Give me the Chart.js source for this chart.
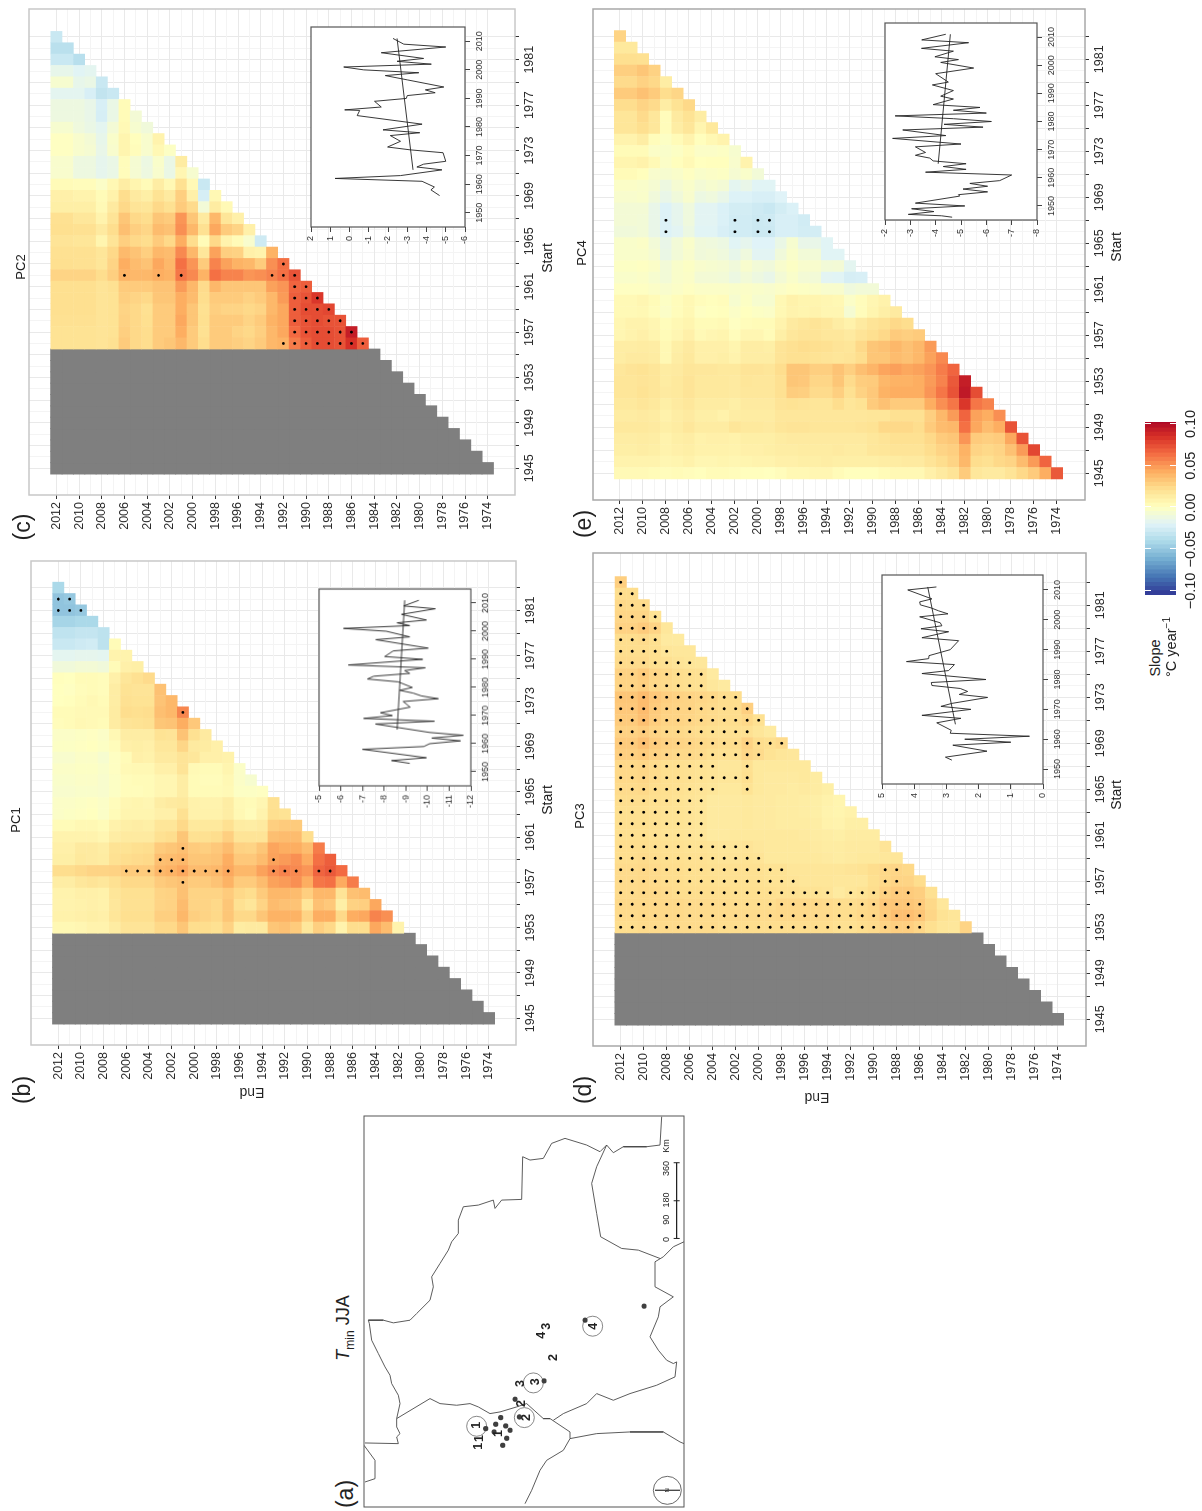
<!DOCTYPE html>
<html>
<head>
<meta charset="utf-8">
<title>Tmin JJA slopes</title>
<script src="https://cdn.jsdelivr.net/npm/chart.js@4"></script>
<style>
    html, body { margin: 0; padding: 0; background: #fff; overflow: hidden; }
    /* the whole figure is laid out lying on its side */
    #page { position: absolute; left: 0; top: 0; width: 1511px; height: 1202px;
            transform-origin: 0 0; transform: translateY(1511px) rotate(-90deg);
            font-family: "Liberation Sans", sans-serif; color: #222; }
    #page canvas { position: absolute; }
    .lbl { position: absolute; white-space: nowrap; line-height: 1; }
</style>
</head>
<body>
<div id="page"></div>
<script>
// Slopes in 0.001 degC/year. Each row is one start year, from 1983 down,
// and each row runs over end years from 2012 down.
const lastStart = 1983;
const pc1Slopes = [
    [-42],
    [-52,-50],
    [-52,-52,-50],
    [-44,-44,-42,-42],
    [-34,-34,-32,-32,-35],
    [-30,-30,-28,-27,-35,3],
    [-18,-18,-17,-17,-18,8,8],
    [-10,-10,-8,-8,-10,3,10,11],
    [1,0,3,3,2,10,17,20,23],
    [0,-1,2,3,2,12,19,18,18,34],
    [0,1,3,5,3,12,20,19,19,33,38],
    [3,3,4,4,4,13,22,21,22,35,38,55],
    [2,3,5,4,3,13,18,19,20,32,33,42,31],
    [-3,-3,-2,-1,-3,5,12,12,12,19,18,33,20,14],
    [-2,-2,-1,0,-2,2,10,11,10,16,16,25,14,13,10],
    [-5,-5,-3,-3,-6,-1,3,10,9,14,14,18,16,10,10,9],
    [-3,-3,-2,-2,-4,-1,4,5,5,10,10,18,4,3,3,7,-3],
    [-4,-4,-3,-3,-5,-2,2,3,3,6,6,12,3,2,2,5,-3,-6],
    [-5,-5,-4,-4,-5,-2,2,2,3,6,6,12,3,3,3,4,-2,-2,-1],
    [-3,-3,-2,-1,-3,2,6,7,6,12,14,15,9,8,8,12,4,3,6,20],
    [-3,-2,-1,0,-3,3,7,7,7,10,10,20,9,9,9,12,5,2,8,21,19],
    [3,3,5,5,3,9,11,12,11,17,17,24,15,15,15,20,13,12,14,28,30,30],
    [8,8,8,8,6,12,14,14,14,20,22,32,20,20,22,28,18,18,18,35,36,36,22],
    [10,10,14,14,12,19,19,21,22,30,32,35,30,28,31,36,27,26,32,45,42,42,36,58],
    [11,11,15,14,13,20,22,23,24,35,36,38,32,32,33,42,31,31,36,46,48,52,43,62,68],
    [22,22,24,26,26,27,30,30,30,38,40,44,36,36,38,44,38,38,46,52,56,54,50,66,70,64],
    [12,12,16,18,16,20,24,24,24,30,32,34,30,30,33,40,30,30,36,46,48,52,42,60,62,43,58],
    [8,8,10,10,9,17,20,20,20,26,27,34,26,26,26,30,24,22,30,38,38,36,28,38,38,18,34,36],
    [8,8,9,10,9,16,20,20,20,26,27,36,26,26,24,32,20,17,26,36,34,33,17,34,31,11,27,28,44],
    [9,9,10,11,10,17,21,21,21,28,28,38,28,26,24,32,24,24,32,40,40,40,26,42,42,24,42,44,56,52],
    [5,5,6,8,8,13,18,18,18,24,24,32,22,22,20,27,13,14,14,32,34,30,16,28,24,8,22,22,44,36,8]
];
const pc2Slopes = [
    [-30],
    [-36,-36],
    [-30,-30,-37],
    [-16,-16,-20,-18],
    [-6,-6,-16,-14,-30],
    [-18,-18,-18,-24,-33,-30],
    [-12,-12,-12,-15,-24,-14,3],
    [-12,-12,-12,-15,-25,-14,3,-8],
    [-6,-6,-11,-14,-18,-8,4,-6,-10],
    [-1,-1,-5,-8,-16,-4,7,1,-5,8],
    [-1,-1,-5,-7,-15,-5,7,2,-5,5,-2],
    [-5,-5,-12,-12,-17,-14,2,-7,-13,-4,-14,13],
    [-5,-5,-12,-12,-17,-14,2,-7,-12,-5,-14,6,-6],
    [3,3,2,2,-3,5,12,7,3,12,5,20,4,-30],
    [10,10,8,8,3,9,22,14,11,19,14,28,10,-25,5],
    [11,11,11,11,4,14,24,18,17,24,20,30,23,-9,13,4],
    [20,20,16,16,8,18,32,24,22,32,30,50,32,14,38,17,10],
    [21,21,20,20,14,22,35,28,25,36,34,52,38,20,44,30,26,10],
    [18,18,17,17,7,18,28,24,22,30,24,42,22,3,24,8,3,-5,-28],
    [20,20,20,20,17,24,37,33,28,38,36,54,38,16,46,28,27,10,8,40],
    [21,21,20,20,17,26,42,36,33,44,38,62,50,30,56,46,40,38,30,52,62],
    [26,26,26,26,22,28,40,38,38,42,40,60,54,40,62,56,56,50,52,56,62,72],
    [21,21,21,21,18,20,30,30,30,33,33,48,38,23,38,32,32,32,32,46,50,66,68],
    [21,21,21,21,18,19,28,26,24,32,32,42,36,22,30,30,30,27,30,38,48,68,72,82],
    [21,21,21,21,18,19,26,24,20,30,30,42,32,20,28,26,26,24,26,38,44,68,74,74,76],
    [20,20,20,20,18,19,27,24,21,30,30,44,32,21,30,30,30,26,30,40,44,68,72,74,72,72],
    [19,19,19,19,18,19,28,24,22,30,30,42,30,20,30,30,26,24,28,38,44,64,72,74,74,72,92],
    [19,19,19,19,18,20,30,24,22,30,32,38,30,22,30,30,28,26,30,38,40,58,68,74,74,72,84,68]
];
const pc3Slopes = [
    [28],
    [22,22],
    [24,23,23],
    [25,25,25,19],
    [27,27,30,26,16],
    [22,22,23,21,14,14],
    [22,22,22,21,17,16,16],
    [23,23,23,21,20,18,17,16],
    [27,27,30,25,24,22,21,20,14],
    [26,26,28,24,23,22,21,20,16,14],
    [32,32,36,31,28,27,26,25,24,22,22],
    [31,31,36,30,27,26,26,24,23,22,22,28],
    [30,30,35,29,26,26,25,24,23,22,22,24,20],
    [27,27,29,26,24,24,23,22,21,20,20,20,17,14],
    [30,30,34,29,27,26,25,24,23,22,22,27,22,21,23],
    [28,28,30,27,25,24,24,23,21,20,20,25,23,19,17,16],
    [24,24,25,23,21,21,20,19,18,16,16,20,15,15,15,15,15],
    [24,24,25,23,21,21,20,19,18,17,17,21,15,14,14,14,15,13],
    [23,23,24,22,21,20,19,18,17,15,15,19,15,14,14,13,14,13,11],
    [22,22,22,21,20,19,18,17,14,14,14,15,14,14,13,13,12,11,9,7],
    [21,21,21,20,19,19,18,17,14,14,14,15,14,14,13,13,12,11,8,7,9],
    [21,21,21,20,19,19,18,17,14,14,14,15,14,14,13,13,13,12,9,8,11,11],
    [21,21,21,20,19,19,18,17,14,14,15,15,15,15,15,15,14,13,12,11,13,13,13],
    [22,22,22,21,20,20,19,19,18,17,17,18,16,15,15,15,15,14,13,13,14,14,14,18],
    [22,22,23,22,21,21,20,20,19,18,18,19,18,15,15,15,15,15,14,13,14,15,15,16,17],
    [23,23,24,23,22,22,21,21,20,20,20,20,20,19,19,17,17,17,17,17,18,19,22,24,25,24],
    [23,23,24,23,22,22,21,21,21,20,20,20,20,19,19,18,17,17,17,16,16,16,21,24,26,26,22],
    [23,23,24,24,23,22,22,22,22,22,21,21,21,21,20,20,19,19,18,14,17,19,22,27,30,30,28,20],
    [24,24,24,24,24,24,23,23,23,23,22,22,22,22,24,24,24,24,23,22,22,23,25,31,32,32,30,24,16],
    [23,23,24,24,24,24,23,23,23,23,23,23,23,23,24,24,24,23,23,22,22,24,25,30,35,35,32,25,19,17],
    [22,22,23,23,23,23,23,23,23,22,22,22,22,22,22,22,22,22,22,20,20,22,23,26,28,28,25,21,17,16,26]
];
const pc4Slopes = [
    [26],
    [15,15],
    [21,21,20],
    [28,28,32,27],
    [23,23,27,24,12],
    [30,30,34,30,22,25],
    [22,22,26,23,12,19,24],
    [17,17,23,16,2,14,19,12],
    [17,17,21,16,2,12,17,7,15],
    [8,8,12,2,-2,3,8,1,5,8],
    [3,3,3,-3,-4,-2,2,-3,-3,-2,-6],
    [7,7,9,4,-3,1,4,0,1,1,-5,8],
    [3,3,1,-5,-6,-4,-1,-4,-3,-2,-7,-4,-9],
    [-3,-3,-4,-7,-12,-7,-4,-8,-6,-8,-18,-15,-20,-20],
    [-5,-5,-4,-10,-15,-10,-5,-13,-11,-15,-22,-22,-24,-24,-21],
    [-8,-8,-8,-15,-22,-17,-11,-19,-19,-23,-26,-26,-28,-30,-26,-23],
    [-8,-8,-9,-15,-22,-17,-11,-19,-19,-23,-27,-27,-29,-28,-24,-24,-27],
    [-10,-10,-9,-15,-22,-19,-13,-20,-20,-24,-27,-27,-29,-29,-24,-24,-26,-26],
    [-4,-4,-3,-9,-15,-9,-4,-10,-11,-13,-20,-17,-21,-21,-14,-6,-15,-15,-20],
    [-4,-4,-4,-7,-14,-9,-5,-10,-9,-11,-16,-11,-19,-19,-10,-4,-9,-9,-20,-20],
    [-2,-2,-1,-3,-9,-4,-2,-5,-6,-7,-10,-5,-9,-10,-5,-2,-5,-5,-9,-8,-18],
    [-4,-4,-3,-6,-9,-4,-3,-8,-8,-9,-13,-9,-12,-15,-8,-4,-8,-9,-19,-20,-25,-24],
    [-1,-1,-1,-3,-5,-3,-1,-3,-3,-3,-4,-3,-4,-5,-3,-1,-2,-3,-5,-5,-11,-9,-9],
    [4,4,6,3,-2,2,5,2,1,2,-6,-2,-6,-6,5,9,7,7,6,5,-3,2,6,9],
    [4,4,5,2,-3,2,5,-1,0,1,-3,0,-2,-3,5,8,7,8,6,6,-7,2,7,11,14],
    [6,8,8,6,2,5,7,3,3,4,-1,2,3,3,8,14,16,18,16,12,9,14,18,20,24,22],
    [6,8,10,7,3,6,10,4,6,7,2,6,6,3,11,16,18,18,16,16,14,18,21,24,30,28,30],
    [12,12,13,12,5,11,14,10,10,10,7,12,12,11,18,20,22,21,20,18,17,24,32,34,38,34,38,48],
    [12,14,14,13,5,12,15,10,10,11,8,12,12,12,18,20,20,19,18,17,18,22,32,32,36,34,38,46,54],
    [16,18,19,17,13,14,17,16,16,15,15,18,18,17,22,32,32,28,28,33,28,35,39,45,47,44,46,50,58,66],
    [17,17,18,17,13,15,18,15,15,15,14,17,16,16,20,32,31,25,25,32,23,29,30,38,40,40,42,48,56,70,92],
    [17,17,19,17,14,15,18,15,15,15,14,16,16,16,20,29,28,23,23,28,20,27,31,40,42,42,42,50,60,72,94,74],
    [15,15,17,15,11,14,16,13,13,13,11,14,14,14,18,19,18,17,17,22,17,19,30,34,30,30,30,42,52,60,82,60,56],
    [13,13,14,13,9,12,14,11,11,9,12,13,13,13,16,16,16,16,16,16,16,16,17,17,20,20,20,28,38,48,66,46,42,52],
    [15,15,15,14,11,13,16,13,13,13,17,15,15,14,17,18,18,17,17,17,17,18,19,24,24,24,22,30,36,38,62,44,36,42,72],
    [12,12,13,12,8,11,12,9,10,10,9,11,11,11,13,14,14,14,14,14,14,14,16,18,20,20,20,24,30,32,50,30,28,30,44,72],
    [11,11,12,11,8,10,11,9,9,9,8,10,10,11,12,12,13,13,13,14,13,13,16,17,18,18,18,22,26,28,40,26,24,26,34,48,76],
    [8,8,8,8,6,7,9,6,6,7,6,7,8,8,10,10,11,11,12,11,11,11,11,12,13,14,14,18,22,26,38,22,20,24,26,36,48,66],
    [4,4,4,3,2,3,2,1,3,3,2,1,1,0,2,5,5,6,6,3,1,1,1,3,5,5,5,10,14,18,30,16,14,14,18,24,30,42,70]
];

// Significant cells: [start, end from, end to]
const pc1Signif = [
    [1982,2012,2011], [1981,2012,2010], [1972,2001,2001], [1960,2001,2001],
    [1959,2003,2001], [1959,1993,1993], [1958,2006,1997], [1958,1993,1991],
    [1958,1989,1988], [1957,2001,2001]
];
const pc2Signif = [
    [1963,1992,1992], [1962,2006,2006], [1962,2003,2003], [1962,2001,2001], [1962,1993,1991],
    [1961,1991,1990], [1960,1991,1989], [1959,1991,1988], [1958,1991,1987], [1957,1991,1986],
    [1956,1992,1985]
];
const pc3Signif = [
    [1983,2012,2012], [1982,2012,2011], [1981,2012,2010], [1980,2012,2009], [1979,2012,2009],
    [1978,2012,2009], [1977,2012,2008], [1976,2012,2006], [1975,2012,2005], [1974,2012,2005],
    [1973,2012,2002], [1972,2012,2001], [1971,2012,2000], [1970,2012,2001], [1969,2012,1998],
    [1968,2012,2000], [1967,2012,2004], [1967,2001,2001], [1966,2012,2001], [1965,2012,2004],
    [1965,2001,2001], [1964,2012,2005], [1963,2012,2005], [1962,2012,2005], [1961,2012,2005],
    [1960,2012,2001], [1959,2012,2000], [1958,2012,1998], [1958,1989,1988], [1957,2012,1997],
    [1957,1989,1988], [1956,2012,1994], [1956,1992,1987], [1955,2012,1986], [1954,2012,1986],
    [1953,2012,1986]
];
const pc4Signif = [
    [1967,2008,2008], [1967,2002,2002], [1967,2000,1999],
    [1966,2008,2008], [1966,2002,2002], [1966,2000,1999]
];

// Inset time series
const pc1Years = [1953,1954,1955,1958,1959,1960,1961,1962,1963,1964,1967,1968,1969,1970,1971,1973,1975,1976,1977,1978,1979,1980,1982,1983,1984,1985,1986,1987,1988,1990,1991,1993,1994,1997,1998,2000,2001,2002,2003,2004,2006,2008,2009,2011];
const pc1Values = [-9.18,-8.34,-9.95,-7.0,-9.83,-10.1,-11.52,-10.2,-11.65,-10.1,-7.6,-10.32,-7.06,-8.38,-7.83,-9.2,-8.88,-10.5,-9.72,-9.34,-8.72,-9.3,-8.65,-7.23,-7.52,-9.18,-8.95,-9.9,-6.35,-9.78,-8.03,-8.42,-10.03,-7.62,-9.18,-8.1,-6.13,-9.18,-8.6,-9.95,-8.8,-10.36,-8.9,-9.6];
const pc1TrendYears = [1965, 2011];
const pc1TrendValues = [-8.6, -8.95];

const pc2Years = [1956,1958,1959,1961,1962,1963,1965,1966,1967,1968,1971,1972,1973,1975,1977,1978,1979,1981,1984,1985.8,1986,1987,1989,1990,1991,1992,1993,1994,1996.5,1998,1999,2000,2001,2002,2003,2004,2006,2008,2009,2011];
const pc2Values = [-4.68,-4.23,-4.41,-3.77,0.75,-2.65,-4.8,-3.5,-3.85,-5.0,-4.86,-3.16,-1.98,-2.65,-2.12,-3.65,-1.74,-3.77,-0.4,-0.53,0.25,-1.65,-1.3,-2.95,-3.0,-4.45,-3.94,-4.9,-3.0,-1.86,-3.6,-0.74,0.3,-4.25,-2.47,-3.85,-1.65,-5.0,-2.82,-2.26];
const pc2TrendYears = [1965, 2011];
const pc2TrendValues = [-3.3, -2.47];

const pc3Years = [1953,1954,1956,1958,1959,1960,1961,1962,1963,1965.5,1967,1968,1970,1971,1972,1974,1975,1976,1977,1978,1979,1980,1982,1983,1985,1986,1987,1988,1990,1993,1994,1996,1997,1998,1999,2001,2002,2003,2004,2005,2006,2007,2010,2011];
const pc3Values = [2.83,3.03,1.74,2.8,1.0,2.43,0.42,2.88,2.85,3.3,2.55,3.76,2.24,3.17,2.83,1.72,2.6,2.34,2.57,3.45,3.47,1.77,3.76,2.93,2.75,4.24,3.55,3.54,2.88,2.62,3.76,2.93,3.79,3.14,3.19,3.83,2.95,3.24,3.48,3.81,3.83,3.45,4.2,3.31];
const pc3TrendYears = [1965, 2011];
const pc3TrendValues = [2.72, 3.58];

const pc4Years = [1946,1946.5,1947,1948,1949,1950,1951,1953.5,1954,1955,1956,1957,1958,1959,1961,1962,1963,1964,1965,1966,1967,1968,1969,1971,1972,1974,1975,1977,1978,1979,1980,1981,1982,1983,1984,1985,1986,1988,1989,1991,1993,1994,1997,1999,2001,2002,2003,2005,2006,2008,2009,2011];
const pc4Values = [-4.65,-4.23,-2.92,-3.93,-3.05,-5.15,-3.2,-4.95,-4.9,-6.05,-5.08,-6.05,-5.35,-6.53,-7.0,-3.6,-5.2,-4.3,-5.2,-3.9,-3.77,-3.2,-3.6,-3.2,-5.0,-2.3,-4.4,-2.7,-5.87,-4.33,-6.2,-4.7,-2.4,-6.0,-4.7,-5.75,-3.9,-4.7,-4.2,-4.7,-3.87,-4.5,-4.0,-5.5,-4.2,-4.9,-3.97,-4.7,-3.44,-5.3,-3.45,-4.4];
const pc4TrendYears = [1965, 2011];
const pc4TrendValues = [-4.1, -4.58];

const insetYearTicks = [1950, 1960, 1970, 1980, 1990, 2000, 2010];

// Map outlines, as [across, down] in map units
const mapBorders = [
    [[105,998],[205,1000],[200,980],[210,970],[200,950],[200,925],[210,880],[205,855],[185,820],[180,795],[165,770],[145,730],[125,690],[118,640],[115,630],[160,630],[190,638],[240,630],[260,610],[300,570],[310,530],[305,500],[330,460],[355,420],[365,395],[385,370],[385,330],[400,290],[445,285],[490,270],[495,295],[515,270],[575,268],[578,140],[600,150],[640,145],[665,100],[705,85],[770,105],[810,125],[830,105],[850,128],[880,110],[950,110],[990,105],[995,20]],
    [[830,105],[800,170],[785,220],[800,310],[812,380],[875,415],[925,420],[990,445]],
    [[1062,395],[1030,410],[1000,440],[975,455],[975,530],[1030,560],[990,590],[985,620],[960,680],[985,720],[1010,750],[1030,760],[1040,755],[1035,800],[980,825],[900,850],[850,870],[800,850],[770,880],[700,910],[670,930]],
    [[200,925],[300,865],[330,880],[380,885],[420,880],[445,890],[480,910],[510,905],[560,890],[590,880],[640,925],[660,925],[675,935],[720,965],[720,985],[700,1020],[650,1050],[630,1080],[605,1140],[585,1180]],
    [[720,985],[800,970],[900,965],[1000,965],[1050,995],[1062,1000]],
    [[102,1005],[135,1050],[135,1105],[105,1115]]
];
const mapStations = [[467,955],[497,942],[512,922],[492,965],[527,947],[540,960],[530,984],[518,1005],[568,920],[555,867],[642,812],[765,630],[942,588]];
const mapCircles = [[440,948],[583,922],[610,818],[788,648]];
const mapNumbers = [['1',447,1008],['1',450,985],['1',505,970],['1',440,945],['2',575,880],['2',590,922],['3',572,820],['3',617,815],['2',672,742],['4',635,675],['3',650,648],['4',790,648]];
const scaleBarKm = [[1040,385],[1040,272],[1040,158]];
const scaleLabels = [['0',1010,388],['90',1010,329],['180',1010,270],['360',1010,175],['Km',1010,108]];

// RdYlBu ramp
const rampValues = [-105,-84,-63,-42,-21,0,21,42,63,84,105];
const rampColors = [[49,54,149],[69,117,180],[116,173,209],[171,217,233],[224,243,248],[255,255,191],[254,224,144],[253,174,97],[244,109,67],[215,48,39],[165,0,38]];
const legendTicks = [-0.10, -0.05, 0, 0.05, 0.10];

/**
 * Colour of a slope given in 0.001 degC/year
 */
function slopeColor(v) {
    let i = 0;
    while (i < rampValues.length - 2 && v > rampValues[i + 1]) i++;
    const t = Math.max(0, Math.min(1, (v - rampValues[i]) / (rampValues[i + 1] - rampValues[i])));
    const c = rampColors[i].map((a, n) => Math.round(a + (rampColors[i + 1][n] - a) * t));
    return `rgb(${c[0]},${c[1]},${c[2]})`;
}

Chart.defaults.font.family = '"Liberation Sans", sans-serif';
Chart.defaults.color = '#2b2b2b';
Chart.defaults.animation = false;
Chart.defaults.events = [];
Chart.defaults.layout.autoPadding = false;
Chart.defaults.plugins.legend.display = false;
Chart.defaults.plugins.tooltip.enabled = false;

const page = document.getElementById('page');

function addCanvas(id, left, top, width, height) {
    const canvas = document.createElement('canvas');
    canvas.id = id;
    canvas.width = width;
    canvas.height = height;
    canvas.style.left = left + 'px';
    canvas.style.top = top + 'px';
    canvas.style.width = width + 'px';
    canvas.style.height = height + 'px';
    page.appendChild(canvas);
    return canvas;
}

function addLabel(html, x, y, size, rotate) {
    const el = document.createElement('div');
    el.className = 'lbl';
    el.innerHTML = html;
    el.style.left = x + 'px';
    el.style.top = y + 'px';
    el.style.fontSize = size + 'px';
    el.style.transform = 'translate(-50%,-50%)' + (rotate ? ` rotate(${rotate}deg)` : '');
    page.appendChild(el);
}

// Box round the plot area, white fill when asked for
const boxPlugin = {
    id: 'box',
    beforeDraw(chart, args, opts) {
        if (!opts.fill) return;
        const a = chart.chartArea;
        chart.ctx.fillStyle = opts.fill;
        chart.ctx.fillRect(a.left, a.top, a.width, a.height);
    },
    afterDraw(chart, args, opts) {
        if (!opts.color) return;
        const a = chart.chartArea;
        chart.ctx.save();
        chart.ctx.strokeStyle = opts.color;
        chart.ctx.lineWidth = opts.width;
        chart.ctx.strokeRect(a.left, a.top, a.width, a.height);
        chart.ctx.restore();
    }
};
Chart.register(boxPlugin);

function range(from, to) {
    const out = [];
    for (let v = from; v <= to; v++) out.push(v);
    return out;
}

/**
 * One start/end triangle panel
 */
function drawPanel(p) {
    const cellPoints = [];
    const cellColors = [];
    p.slopes.forEach((row, i) => {
        row.forEach((v, k) => {
            cellPoints.push({ x: lastStart - i, y: 2012 - k });
            cellColors.push(slopeColor(v));
        });
    });

    // Start years without enough data are greyed out
    const greyPoints = [];
    const firstStart = lastStart - p.slopes.length + 1;
    for (let s = 1945; s < firstStart; s++) {
        for (let e = s + 29; e <= 2012; e++) greyPoints.push({ x: s, y: e });
    }

    const dots = [];
    p.signif.forEach(([s, from, to]) => {
        for (let e = from; e >= to; e--) dots.push({ x: s, y: e });
    });

    const width = p.right - p.left;
    const height = p.bottom - p.top;
    const canvas = addCanvas(p.id, p.left - 70, p.top - 12, width + 82, height + 42);

    const tickStyle = (isMajor) => ({
        color: ctx => isMajor(ctx.tick.value) ? '#e9e9e9' : '#f4f4f4',
        tickColor: ctx => isMajor(ctx.tick.value) ? '#333' : 'rgba(0,0,0,0)',
        tickLength: 4,
        lineWidth: 1
    });

    return new Chart(canvas, {
        type: 'scatter',
        data: {
            datasets: [
                { data: dots, pointStyle: 'circle', pointRadius: 1.4, pointBorderWidth: 0, pointBackgroundColor: '#000' },
                { data: cellPoints, pointStyle: 'rect', pointRadius: (p.cell + 0.5) / Math.SQRT2, pointBorderWidth: 0, pointBackgroundColor: cellColors },
                { data: greyPoints, pointStyle: 'rect', pointRadius: (p.cell + 1) / Math.SQRT2, pointBorderWidth: 0, pointBackgroundColor: '#7f7f7f' }
            ]
        },
        options: {
            responsive: false,
            layout: { padding: { top: 12, right: 12, left: 0, bottom: 0 } },
            plugins: { box: { color: p.boxColor, width: 1.5 } },
            scales: {
                x: {
                    type: 'linear',
                    min: 1945 - (p.x1945 - p.left) / p.cell,
                    max: 1945 + (p.right - p.x1945) / p.cell,
                    afterBuildTicks: s => { s.ticks = range(1945, 1983).map(v => ({ value: v })); },
                    afterFit: s => { s.height = 30; },
                    grid: tickStyle(v => (v - 1945) % 2 === 0),
                    border: { display: false },
                    ticks: {
                        autoSkip: false, maxRotation: 0, minRotation: 0, padding: 3,
                        font: { size: 12.5 }, color: '#2b2b2b',
                        callback: v => (v - 1945) % 4 === 0 ? String(v) : ''
                    }
                },
                y: {
                    type: 'linear',
                    min: 2012 - (p.bottom - p.y2012) / p.cell,
                    max: 2012 + (p.y2012 - p.top) / p.cell,
                    afterBuildTicks: s => { s.ticks = range(1974, 2012).map(v => ({ value: v })); },
                    afterFit: s => { s.width = 70; },
                    grid: tickStyle(v => v % 2 === 0),
                    border: { display: false },
                    ticks: {
                        autoSkip: false, padding: 3,
                        font: { size: 12.5 }, color: '#2b2b2b',
                        callback: v => v % 2 === 0 ? String(v) : ''
                    }
                }
            }
        }
    });
}

/**
 * Small time series plot with its trend line
 */
function drawInset(s) {
    const width = s.right - s.left;
    const height = s.bottom - s.top;
    const canvas = addCanvas(s.id, s.left - 30, s.top - 12, width + 42, height + 38);
    const toPoints = (xs, ys) => xs.map((x, i) => ({ x: x, y: ys[i] }));
    const axisGrid = { drawOnChartArea: false, tickLength: 5, tickColor: '#444', tickWidth: 1 };
    return new Chart(canvas, {
        type: 'scatter',
        data: {
            datasets: [
                { data: toPoints(s.years, s.values), showLine: true, borderColor: '#222', borderWidth: 0.9, pointRadius: 0 },
                { data: toPoints(s.trendYears, s.trendValues), showLine: true, borderColor: '#222', borderWidth: 0.9, pointRadius: 0 }
            ]
        },
        options: {
            responsive: false,
            layout: { padding: { top: 12, right: 12, left: 0, bottom: 0 } },
            plugins: { box: { color: '#555', width: 1.2, fill: '#fff' } },
            scales: {
                x: {
                    type: 'linear', min: 1945, max: 2015,
                    afterBuildTicks: a => { a.ticks = insetYearTicks.map(v => ({ value: v })); },
                    afterFit: a => { a.height = 26; },
                    grid: axisGrid,
                    border: { display: false },
                    ticks: { autoSkip: false, maxRotation: 0, minRotation: 0, padding: 4, font: { size: 9 }, color: '#333', callback: v => String(v) }
                },
                y: {
                    type: 'linear', min: s.yMin, max: s.yMax,
                    afterBuildTicks: a => { a.ticks = range(s.yMin, s.yMax).map(v => ({ value: v })); },
                    afterFit: a => { a.width = 30; },
                    grid: axisGrid,
                    border: { display: false },
                    ticks: { autoSkip: false, padding: 4, font: { size: 9 }, color: '#333', callback: v => String(v) }
                }
            }
        }
    });
}

/**
 * Panel (a): station map with borders
 */
function drawMap() {
    const asPoints = list => list.map(([across, down]) => ({ x: down, y: across }));
    const datasets = mapBorders.map(line => ({
        data: asPoints(line), showLine: true, borderColor: '#4a4a4a', borderWidth: 0.9, pointRadius: 0
    }));
    datasets.push({ data: asPoints(mapStations), pointRadius: 2.6, pointBorderWidth: 0, pointBackgroundColor: '#3f3f3f' });
    datasets.push({ data: asPoints(mapCircles), pointRadius: 10, pointBorderWidth: 0.7, pointBorderColor: '#555', pointBackgroundColor: 'rgba(0,0,0,0)' });
    datasets.push({ data: asPoints(scaleBarKm), showLine: true, borderColor: '#222', borderWidth: 1.2, pointStyle: 'line', pointRotation: 90, pointRadius: 3, pointBorderWidth: 1, pointBorderColor: '#222' });
    // north arrow
    datasets.push({ data: asPoints([[1012,1140]]), pointRadius: 14, pointBorderWidth: 0.8, pointBorderColor: '#444', pointBackgroundColor: 'rgba(0,0,0,0)' });
    datasets.push({ data: asPoints([[975,1140],[1050,1140]]), showLine: true, borderColor: '#444', borderWidth: 0.8, pointRadius: 0 });

    const mapText = {
        id: 'mapText',
        afterDatasetsDraw(chart) {
            const { ctx, scales } = chart;
            ctx.save();
            ctx.textAlign = 'center';
            ctx.textBaseline = 'middle';
            ctx.fillStyle = '#222';
            ctx.font = 'bold 12.5px "Liberation Sans"';
            mapNumbers.forEach(([t, across, down]) => {
                ctx.fillText(t, scales.x.getPixelForValue(down), scales.y.getPixelForValue(across));
            });
            ctx.font = '9px "Liberation Sans"';
            scaleLabels.forEach(([t, across, down]) => {
                ctx.fillText(t, scales.x.getPixelForValue(down), scales.y.getPixelForValue(across));
            });
            ctx.font = '6px "Liberation Sans"';
            ctx.fillText('N', scales.x.getPixelForValue(1140), scales.y.getPixelForValue(1012));
            ctx.restore();
        }
    };

    const canvas = addCanvas('mapPanel', 2, 362, 395, 324);
    return new Chart(canvas, {
        type: 'scatter',
        data: { datasets: datasets },
        plugins: [mapText],
        options: {
            responsive: false,
            layout: { padding: 2 },
            plugins: { box: { color: '#555', width: 1 } },
            scales: {
                x: { type: 'linear', display: false, reverse: true, min: 18, max: 1190 },
                y: { type: 'linear', display: false, reverse: true, min: 102, max: 1062 }
            }
        }
    });
}

/**
 * Colour bar, built from floating bars
 */
function drawColorBar() {
    const datasets = [];
    for (let v = -105; v < 103; v += 5) {
        datasets.push({
            data: [[v / 1000, (v + 5.4) / 1000]],
            backgroundColor: slopeColor(v + 2.5),
            grouped: false,
            barPercentage: 1,
            categoryPercentage: 1
        });
    }
    const whiteTicks = {
        id: 'whiteTicks',
        afterDatasetsDraw(chart) {
            const { ctx, scales, chartArea } = chart;
            ctx.save();
            ctx.strokeStyle = '#fff';
            ctx.lineWidth = 1;
            legendTicks.forEach(v => {
                const x = Math.round(scales.x.getPixelForValue(v)) + 0.5;
                ctx.beginPath();
                ctx.moveTo(x, chartArea.top);
                ctx.lineTo(x, chartArea.top + 6);
                ctx.moveTo(x, chartArea.bottom - 6);
                ctx.lineTo(x, chartArea.bottom);
                ctx.stroke();
            });
            ctx.restore();
        }
    };
    const canvas = addCanvas('colorBar', 876, 1145, 253, 57);
    return new Chart(canvas, {
        type: 'bar',
        data: { labels: ['Slope'], datasets: datasets },
        plugins: [whiteTicks],
        options: {
            responsive: false,
            indexAxis: 'y',
            layout: { padding: { left: 40, right: 40, top: 0, bottom: 0 } },
            scales: {
                x: {
                    type: 'linear', min: -0.1048, max: 0.1024,
                    afterBuildTicks: a => { a.ticks = legendTicks.map(v => ({ value: v })); },
                    afterFit: a => { a.height = 26; },
                    grid: { display: false, drawTicks: false },
                    border: { display: false },
                    ticks: {
                        autoSkip: false, maxRotation: 0, minRotation: 0, padding: 6,
                        font: { size: 14.5 }, color: '#222',
                        callback: v => (v < 0 ? '\u2212' : '') + Math.abs(v).toFixed(2)
                    }
                },
                y: { display: false }
            }
        }
    });
}

drawMap();

drawPanel({ id: 'pc1Panel', slopes: pc1Slopes, signif: pc1Signif, left: 466, right: 950, top: 31, bottom: 516, x1945: 492.7, y2012: 58.3, cell: 11.33, boxColor: '#c8c8c8' });
drawPanel({ id: 'pc2Panel', slopes: pc2Slopes, signif: pc2Signif, left: 1016, right: 1502, top: 29, bottom: 515, x1945: 1042.7, y2012: 56.4, cell: 11.35, boxColor: '#c8c8c8' });
drawPanel({ id: 'pc3Panel', slopes: pc3Slopes, signif: pc3Signif, left: 465, right: 958, top: 593, bottom: 1086, x1945: 491.75, y2012: 620.75, cell: 11.5, boxColor: '#a8a8a8' });
drawPanel({ id: 'pc4Panel', slopes: pc4Slopes, signif: pc4Signif, left: 1011, right: 1502, top: 593, bottom: 1085, x1945: 1037.75, y2012: 620, cell: 11.5, boxColor: '#a8a8a8' });

drawInset({ id: 'pc1Inset', left: 725, right: 921.7, top: 319.3, bottom: 471, yMin: -12, yMax: -5, years: pc1Years, values: pc1Values, trendYears: pc1TrendYears, trendValues: pc1TrendValues });
drawInset({ id: 'pc2Inset', left: 1283.7, right: 1483.7, top: 310.7, bottom: 464.7, yMin: -6, yMax: 2, years: pc2Years, values: pc2Values, trendYears: pc2TrendYears, trendValues: pc2TrendValues });
drawInset({ id: 'pc3Inset', left: 726.7, right: 936, top: 881.7, bottom: 1042.7, yMin: 0, yMax: 5, years: pc3Years, values: pc3Values, trendYears: pc3TrendYears, trendValues: pc3TrendValues });
drawInset({ id: 'pc4Inset', left: 1291, right: 1488.3, top: 885, bottom: 1037.3, yMin: -8, yMax: -2, years: pc4Years, values: pc4Values, trendYears: pc4TrendYears, trendValues: pc4TrendValues });

drawColorBar();

// Panel letters and titles
addLabel('(a)', 17, 345, 23);
addLabel('<i>T</i><sub style="font-size:12px">min</sub> JJA', 183, 345, 18);
addLabel('(b)', 421, 22, 23);
addLabel('(c)', 984, 22, 23);
addLabel('(d)', 421, 583, 23);
addLabel('(e)', 987, 583, 23);
addLabel('PC1', 691, 15, 13);
addLabel('PC2', 1244, 20, 13);
addLabel('PC3', 695, 579, 13);
addLabel('PC4', 1258, 581, 13);
addLabel('Start', 711, 547, 14);
addLabel('Start', 1253, 547, 14);
addLabel('Start', 716, 1116, 14);
addLabel('Start', 1264, 1116, 14);
addLabel('End', 418, 252, 14, -90);
addLabel('End', 413, 817, 14, -90);
addLabel('Slope', 853, 1155, 14.5);
addLabel('\u00b0C year<sup style="font-size:10px">\u22121</sup>', 864, 1170, 14.5);
</script>
</body>
</html>
